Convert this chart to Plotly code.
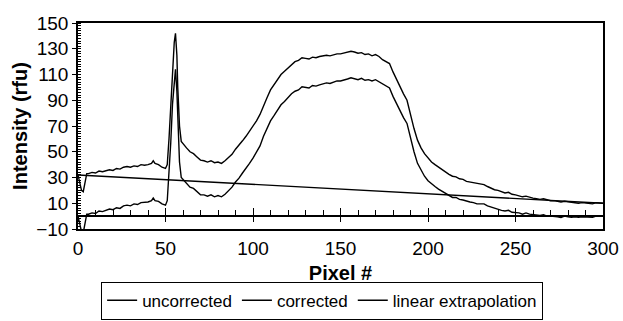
import plotly.graph_objects as go

# ---- data ----
pixel = [0, 1, 2, 3, 4, 5, 6, 8, 10, 12, 14, 16, 18, 20, 22, 24, 26, 28, 30, 32, 34, 36, 38, 40, 42, 43, 44, 46, 48, 50,
         51, 52, 53, 54, 55, 55.7, 56.5, 57, 58, 59, 60, 62, 64, 66, 68, 70, 72, 74, 76, 78, 80, 82, 84, 86, 88, 90,
         92, 94, 96, 98, 100, 102, 104, 106, 108, 110, 112, 114, 116, 118, 120, 122, 124, 126, 128, 130, 132, 134,
         136, 138, 140, 142, 144, 146, 148, 150, 152, 154, 156, 158, 160, 162, 164, 166, 168, 170, 172, 174, 176,
         178, 180, 182, 184, 186, 188, 190, 192, 194, 196, 198, 200, 202, 204, 206, 208, 210, 212, 214, 216, 218,
         220, 222, 224, 226, 228, 230, 232, 234, 236, 238, 240, 242, 244, 246, 248, 250, 252, 254, 256, 258, 260,
         262, 264, 266, 268, 270, 272, 274, 276, 278, 280, 282, 284, 286, 288, 290, 292, 294, 296, 298, 300]

uncorrected = [32, 27, 20, 19, 27, 33, 33, 34, 33.5, 35, 34.5, 35.5, 36, 35.5, 37, 36.5, 38, 38.5, 38, 39, 38.5, 40,
               39.5, 40, 41, 43, 41, 40, 38, 37,
               40, 60, 85, 115, 135, 142, 125, 100, 70, 58, 56, 53, 50, 48.5, 46, 43.5, 43, 42, 43, 41.5, 42, 41, 43,
               45.5, 48, 52,
               55, 58.5, 62, 66, 69.5, 74, 79, 86, 92, 98, 102, 106, 110, 112.5, 115, 118, 120, 121, 123, 122.5, 122,
               123.5,
               123, 124, 124.5, 125, 124.5, 125.5, 126, 126, 126.5, 127, 128, 127.5, 126.5, 127, 125.5, 126, 124.5,
               125.5, 124, 121.5, 120,
               118.5, 112, 106, 100, 95, 90, 78, 68, 59, 53, 48.5, 45, 42, 40, 38, 36, 34, 32.5, 31, 30.5, 29,
               28.5, 27, 26.5, 26, 25, 24.5, 24.5, 23, 21.5, 20.5, 20, 19, 18, 18.5, 17, 16.5, 16, 15, 15.5, 14.5, 14,
               13.5, 13, 13.5, 12.5, 12, 12, 11.5, 11, 11.5, 11, 10.5, 10.5, 10, 10.5, 10, 10, 9.5, 10.5, 10, 10]

corrected = [0, -5, -12, -13, -4.5, 1.5, 1.5, 2.5, 2, 4, 3.5, 4.5, 5.5, 5, 6.5, 6, 8, 8.5, 8, 9.5, 9, 10.5, 10.5, 11,
             12, 14, 12, 11.5, 9.5, 8.5,
             12, 32, 57, 87, 107, 114, 97, 72, 42, 30, 28.4, 25.5, 22.5, 21.5, 19, 16.5, 16.5, 15.5, 16.5, 15, 16, 15,
             17, 20, 22.5, 26.5,
             29.5, 33.5, 37, 41, 45, 49.5, 54.5, 62, 68, 74, 78, 82.5, 86.5, 89, 92, 95, 97, 98, 100.5, 100, 99.5,
             101.5,
             101, 102, 103, 103.5, 103, 104, 105, 105, 105.5, 106.5, 107.5, 107, 106, 107, 105.5, 106, 105, 106,
             104.5, 102.5, 101,
             99.5, 93, 87.5, 81.5, 76.5, 72, 60, 50, 41, 35.5, 31, 27.5, 25, 23, 21, 19.5, 17.5, 16, 14.5, 14.5, 13,
             12.5, 11.5, 11, 10.5, 9.5, 9.5, 9.5, 8, 7, 6, 5.5, 4.5, 4, 4.5, 3, 3, 2.5, 1.5, 2.5, 1.5, 1,
             0.5, 0.5, 1, 0, 0, 0, -0.5, -1, 0, -0.5, -1, -0.5, -1, -0.5, -0.5, -0.5, -1, 0, 0, 0]

linear_x = [0, 300]
linear_y = [32, 10]

FONT = "Liberation Sans, Arial, sans-serif"
LINE = dict(color="black", width=1.4)

fig = go.Figure()
fig.add_trace(go.Scatter(x=pixel, y=uncorrected, mode="lines", name="uncorrected", line=LINE))
fig.add_trace(go.Scatter(x=pixel, y=corrected, mode="lines", name="corrected", line=LINE))
fig.add_trace(go.Scatter(x=linear_x, y=linear_y, mode="lines", name="linear extrapolation", line=LINE))
# empty helper traces so that the zero-line tick axes are drawn
for ax in ("x2", "x3"):
    fig.add_trace(go.Scatter(x=linear_x, y=[None, None], xaxis=ax, yaxis="y", mode="lines",
                             showlegend=False, hoverinfo="skip"))

fig.update_layout(
    width=623, height=321,
    margin=dict(l=78, r=20, t=23, b=92, autoexpand=False),
    paper_bgcolor="white", plot_bgcolor="white",
    font=dict(family=FONT, color="black", size=19),
    showlegend=True,
    legend=dict(
        orientation="h", x=0.465, xanchor="center", y=-0.44, yanchor="bottom",
        bordercolor="black", borderwidth=1, font=dict(size=17, family=FONT),
        itemwidth=30, tracegroupgap=0,
    ),
    xaxis=dict(
        range=[0, 300], tick0=0, dtick=50, showgrid=False, zeroline=False, automargin=False,
        showline=True, linecolor="black", linewidth=1.5, mirror=True,
        ticks="outside", ticklen=1, tickcolor="rgba(0,0,0,0)",
        title=dict(text="<b>Pixel #</b>", font=dict(size=20), standoff=8),
    ),
    xaxis2=dict(
        range=[0, 300], overlaying="x", anchor="free", position=0.0625, automargin=False,
        showline=True, linecolor="black", linewidth=1.5, showgrid=False, zeroline=False,
        showticklabels=False, tick0=0, dtick=50, ticks="inside", ticklen=7, tickcolor="black", tickwidth=1.2,
        minor=dict(dtick=10, tick0=0, ticks="inside", ticklen=5, tickcolor="black", tickwidth=1),
    ),
    xaxis3=dict(
        range=[0, 300], overlaying="x", anchor="free", position=0.0625, automargin=False,
        showline=False, showgrid=False, zeroline=False,
        showticklabels=False, tick0=0, dtick=50, ticks="outside", ticklen=5, tickcolor="black", tickwidth=1.2,
    ),
    yaxis=dict(
        range=[-10, 150], tick0=-10, dtick=20, showgrid=False, zeroline=False, automargin=False,
        showline=True, linecolor="black", linewidth=1.5, mirror=True,
        ticks="outside", ticklen=4, tickcolor="black", tickwidth=1.2,
        minor=dict(dtick=2, tick0=0, ticks="inside", ticklen=3, tickcolor="black", tickwidth=1),
        title=dict(text="<b>Intensity (rfu)</b>", font=dict(size=20), standoff=3),
    ),
)

fig.write_html("out.html")
